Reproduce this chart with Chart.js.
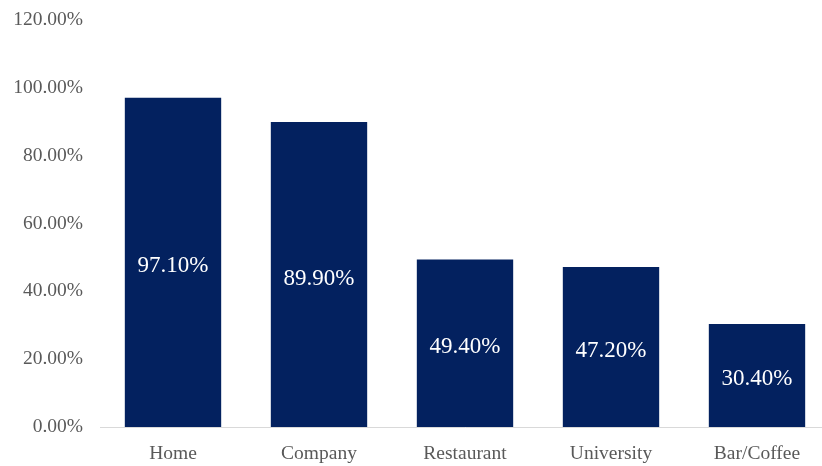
<!DOCTYPE html>
<html>
<head>
<meta charset="utf-8">
<script src="https://cdn.jsdelivr.net/npm/chart.js@4"></script>
<style>
  html, body { margin: 0; padding: 0; background: #fff; overflow: hidden; }
</style>
</head>
<body>
<canvas id="barChart" width="830" height="466"></canvas>
<script>
const categories = ["Home", "Company", "Restaurant", "University", "Bar/Coffee"];
const shares = [97.1, 89.9, 49.4, 47.2, 30.4];
const yTicks = [0, 20, 40, 60, 80, 100, 120];

const serif = "'Liberation Serif', 'Times New Roman', serif";

// white value labels in the middle of each bar
const barValues = {
    id: "barValues",
    afterDatasetsDraw(chart) {
        const ctx = chart.ctx;
        const meta = chart.getDatasetMeta(0);
        ctx.save();
        ctx.fillStyle = "#ffffff";
        ctx.font = "23px " + serif;
        ctx.textAlign = "center";
        ctx.textBaseline = "middle";
        meta.data.forEach((bar, i) => {
            const mid = (bar.y + bar.base) / 2 + 4;
            ctx.fillText(shares[i].toFixed(2) + "%", bar.x, mid);
        });
        ctx.restore();
    }
};

new Chart(document.getElementById("barChart").getContext("2d"), {
    type: "bar",
    data: {
        labels: categories,
        datasets: [{
            data: shares,
            backgroundColor: "#03215f",
            categoryPercentage: 1,
            barPercentage: 0.66
        }]
    },
    options: {
        responsive: false,
        animation: false,
        layout: { padding: { top: 20, right: 0, bottom: 0, left: 0 } },
        plugins: {
            legend: { display: false },
            tooltip: { enabled: false }
        },
        scales: {
            x: {
                grid: { display: false, drawTicks: false },
                border: { display: true, color: "#d9d9d9", width: 1 },
                ticks: {
                    color: "#595959",
                    padding: 15,
                    font: { family: serif, size: 19.5 }
                },
                afterFit(scale) { scale.height = 39; }
            },
            y: {
                min: 0,
                max: 120,
                afterBuildTicks(scale) {
                    scale.ticks = yTicks.map(v => ({ value: v }));
                },
                grid: { display: false, drawTicks: false },
                border: { display: false },
                ticks: {
                    color: "#595959",
                    padding: 17,
                    font: { family: serif, size: 19.5 },
                    callback: v => v.toFixed(2) + "%"
                },
                afterFit(scale) {
                    scale.width = 100;
                    scale.paddingTop = 0;
                    scale.paddingBottom = 0;
                }
            }
        }
    },
    plugins: [barValues]
});
</script>
</body>
</html>
